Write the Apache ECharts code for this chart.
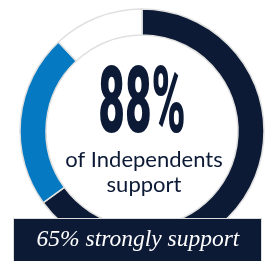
<!DOCTYPE html>
<html>
<head>
<meta charset="utf-8">
<script src="https://cdn.jsdelivr.net/npm/echarts@6/dist/echarts.min.js"></script>
<style>
  html, body { margin: 0; padding: 0; background: #fff; }
  #donut { width: 269px; height: 261px; }
</style>
</head>
<body>
<div id="donut"></div>
<script type="text/javascript">
// shares read from the ring: strongly support, somewhat support, rest
var segmentNames = ['Strongly support', 'Somewhat support', 'Other'];
var segmentValues = [65, 23, 12];
var segmentColors = ['#0c1a36', '#0579c1', '#ffffff'];
var headline = '88%';
var subline = 'of Independents\nsupport';
var bannerText = '65% strongly support';

var navy = '#0c1a36';
var chart = echarts.init(document.getElementById('donut'));

var pieData = [];
for (var i = 0; i < segmentValues.length; i++) {
    pieData.push({
        name: segmentNames[i],
        value: segmentValues[i],
        itemStyle: { color: segmentColors[i] }
    });
}

var option = {
    animation: false,
    series: [
        {
            type: 'pie',
            center: [142, 131],
            radius: [96, 122],
            startAngle: 90,
            clockwise: true,
            silent: true,
            label: { show: false },
            labelLine: { show: false },
            itemStyle: { borderColor: '#e0e0e0', borderWidth: 1.5 },
            data: pieData
        }
    ],
    graphic: [
        {
            type: 'text',
            x: 142,
            y: 109,
            scaleX: 0.5,
            z: 100,
            style: {
                text: headline,
                align: 'center',
                verticalAlign: 'middle',
                fill: navy,
                font: '900 92px Roboto'
            }
        },
        {
            type: 'text',
            x: 144,
            y: 172,
            z: 100,
            style: {
                text: subline,
                align: 'center',
                verticalAlign: 'middle',
                fill: navy,
                font: '400 22px Lato',
                lineHeight: 25
            }
        },
        {
            type: 'rect',
            z: 100,
            shape: { x: 13.5, y: 218.5, width: 248, height: 50 },
            style: { fill: navy, stroke: '#dcdcdc', lineWidth: 1 }
        },
        {
            type: 'text',
            x: 138,
            y: 240,
            z: 101,
            style: {
                text: bannerText,
                align: 'center',
                verticalAlign: 'middle',
                fill: '#ffffff',
                font: 'italic 23.5px "Liberation Serif"'
            }
        }
    ]
};

chart.setOption(option);
</script>
</body>
</html>
